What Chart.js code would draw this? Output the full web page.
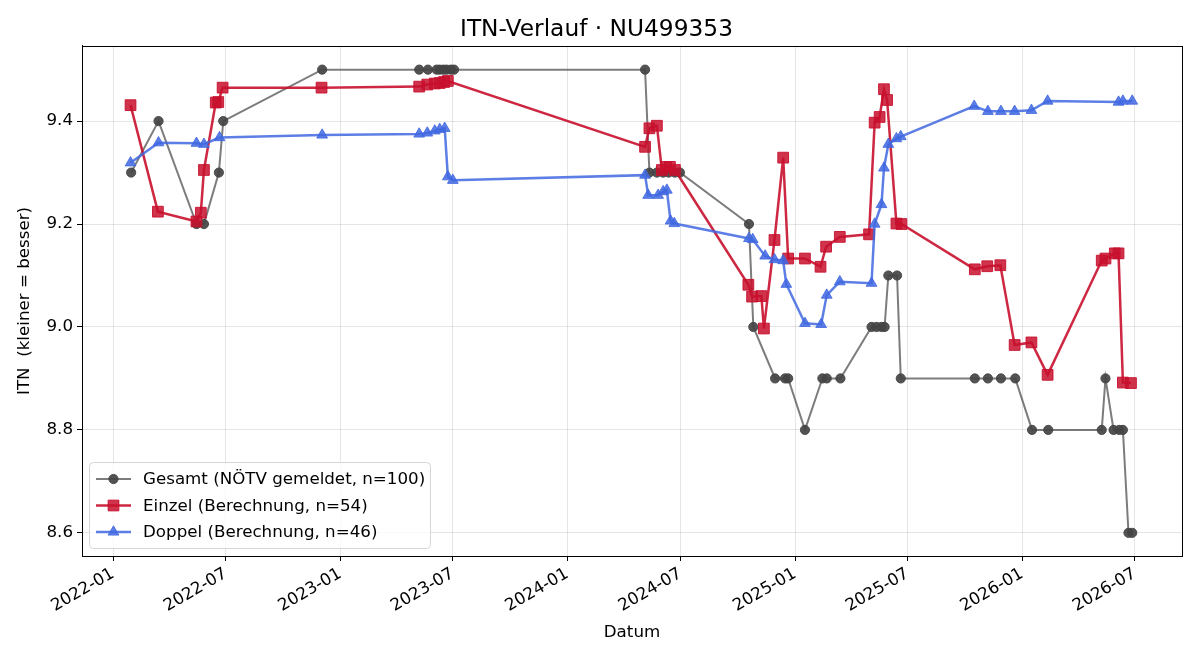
<!DOCTYPE html>
<html>
<head>
<meta charset="utf-8">
<title>ITN-Verlauf</title>
<script src="https://cdn.jsdelivr.net/npm/chart.js@4.4.1/dist/chart.umd.min.js"></script>
<style>
  html, body { margin: 0; padding: 0; background: #fff; }
  #wrap { width: 1200px; height: 660px; }
</style>
</head>
<body>
<div id="wrap"><canvas id="itnChart" width="1200" height="660"></canvas></div>
<script>
// Werte
const gesamtDates = [
  '2022-01-30', '2022-03-15', '2022-05-15', '2022-05-27', '2022-06-20', '2022-06-27', '2022-12-03',
  '2023-05-08', '2023-05-22', '2023-06-05', '2023-06-10', '2023-06-16', '2023-06-21', '2023-06-28', '2023-07-03',
  '2024-05-05', '2024-05-12', '2024-05-24', '2024-06-03', '2024-06-12', '2024-06-22', '2024-06-30',
  '2024-10-19', '2024-10-26', '2024-11-30', '2024-12-16', '2024-12-21',
  '2025-01-17', '2025-02-14', '2025-02-21', '2025-03-15', '2025-05-04', '2025-05-12', '2025-05-20', '2025-05-25',
  '2025-05-31', '2025-06-14', '2025-06-20', '2025-10-17', '2025-11-07', '2025-11-28', '2025-12-21',
  '2026-01-17', '2026-02-12', '2026-05-09', '2026-05-15', '2026-05-28', '2026-06-06', '2026-06-12', '2026-06-21', '2026-06-27'
];
const gesamtValues = [
  9.3, 9.4, 9.2, 9.2, 9.3, 9.4, 9.5,
  9.5, 9.5, 9.5, 9.5, 9.5, 9.5, 9.5, 9.5,
  9.5, 9.3, 9.3, 9.3, 9.3, 9.3, 9.3,
  9.2, 9.0, 8.9, 8.9, 8.9,
  8.8, 8.9, 8.9, 8.9, 9.0, 9.0, 9.0, 9.0,
  9.1, 9.1, 8.9, 8.9, 8.9, 8.9, 8.9,
  8.8, 8.8, 8.8, 8.9, 8.8, 8.8, 8.8, 8.6, 8.6
];

const einzelDates = [
  '2022-01-29', '2022-03-14', '2022-05-15', '2022-05-22', '2022-05-27', '2022-06-15', '2022-06-19', '2022-06-26', '2022-12-02',
  '2023-05-08', '2023-05-21', '2023-06-02', '2023-06-10', '2023-06-17', '2023-06-23',
  '2024-05-05', '2024-05-12', '2024-05-24', '2024-06-01', '2024-06-08', '2024-06-14', '2024-06-22',
  '2024-10-18', '2024-10-24', '2024-11-08', '2024-11-12', '2024-11-29', '2024-12-13', '2024-12-21',
  '2025-01-17', '2025-02-11', '2025-02-20', '2025-03-14', '2025-04-30', '2025-05-09', '2025-05-17', '2025-05-24',
  '2025-05-29', '2025-06-13', '2025-06-21', '2025-10-17', '2025-11-06', '2025-11-27', '2025-12-20',
  '2026-01-16', '2026-02-11', '2026-05-09', '2026-05-15', '2026-05-30', '2026-06-05', '2026-06-12', '2026-06-25'
];
const einzelValues = [
  9.431, 9.224, 9.205, 9.222, 9.305, 9.436, 9.437, 9.465, 9.465,
  9.467, 9.471, 9.473, 9.474, 9.476, 9.478,
  9.350, 9.386, 9.391, 9.305, 9.311, 9.311, 9.305,
  9.082, 9.059, 9.060, 8.997, 9.169, 9.329, 9.133,
  9.133, 9.117, 9.156, 9.175, 9.180, 9.397, 9.408, 9.462,
  9.441, 9.201, 9.200, 9.112, 9.118, 9.120, 8.965,
  8.970, 8.907, 9.129, 9.133, 9.143, 9.143, 8.892, 8.891
];

const doppelDates = [
  '2022-01-29', '2022-03-15', '2022-05-15', '2022-05-27', '2022-06-21', '2022-12-03',
  '2023-05-08', '2023-05-21', '2023-06-02', '2023-06-10', '2023-06-18', '2023-06-23', '2023-07-01',
  '2024-05-05', '2024-05-10', '2024-05-26', '2024-06-03', '2024-06-09', '2024-06-15', '2024-06-21',
  '2024-10-19', '2024-10-25', '2024-11-14', '2024-11-29', '2024-12-13', '2024-12-18',
  '2025-01-17', '2025-02-12', '2025-02-21', '2025-03-14', '2025-05-04', '2025-05-09', '2025-05-20', '2025-05-24',
  '2025-05-31', '2025-06-13', '2025-06-20', '2025-10-16', '2025-11-07', '2025-11-28', '2025-12-20',
  '2026-01-16', '2026-02-11', '2026-06-05', '2026-06-12', '2026-06-27'
];
const doppelValues = [
  9.319, 9.358, 9.357, 9.355, 9.368, 9.373,
  9.375, 9.377, 9.381, 9.384, 9.386, 9.292, 9.285,
  9.295, 9.256, 9.256, 9.263, 9.266, 9.206, 9.201,
  9.172, 9.170, 9.138, 9.131, 9.129, 9.083,
  9.007, 9.005, 9.062, 9.088, 9.085, 9.200, 9.238, 9.309,
  9.355, 9.366, 9.370, 9.429, 9.419, 9.419, 9.419,
  9.421, 9.439, 9.437, 9.439, 9.439
];

const seriesLabels = [
  'Gesamt (NÖTV gemeldet, n=100)',
  'Einzel (Berechnung, n=54)',
  'Doppel (Berechnung, n=46)'
];

const xTickLabels = ['2022-01', '2022-07', '2023-01', '2023-07', '2024-01', '2024-07', '2025-01', '2025-07', '2026-01', '2026-07'];
const yTicks = [8.6, 8.8, 9.0, 9.2, 9.4];

const FONT = 'DejaVu Sans';
const FS = 16.7;

function toPoints(dates, values) {
  return dates.map((d, i) => ({ x: Date.parse(d), y: values[i] }));
}

// kleine Legende unten links im Plot, wie bei matplotlib
const legendBox = {
  id: 'legendBox',
  afterDraw(chart) {
    const { ctx, chartArea } = chart;
    const w = 341, h = 86;
    const x = chartArea.left + 7;
    const y = chartArea.bottom - 8 - h;
    ctx.save();
    ctx.beginPath();
    ctx.roundRect(x + 0.5, y + 0.5, w, h, 4);
    ctx.fillStyle = 'rgba(255,255,255,0.8)';
    ctx.fill();
    ctx.strokeStyle = 'rgba(204,204,204,0.8)';
    ctx.lineWidth = 1;
    ctx.stroke();
    chart.data.datasets.forEach((ds, i) => {
      const cy = y + 17 + i * 26.5;
      ctx.strokeStyle = ds.borderColor;
      ctx.lineWidth = ds.borderWidth;
      ctx.beginPath();
      ctx.moveTo(x + 7, cy);
      ctx.lineTo(x + 42, cy);
      ctx.stroke();
      ctx.fillStyle = ds.pointBackgroundColor;
      ctx.strokeStyle = ds.pointBorderColor;
      ctx.lineWidth = 1;
      Chart.helpers.drawPoint(ctx, { pointStyle: ds.pointStyle, radius: ds.pointRadius, borderWidth: 1, rotation: 0 }, x + 24.5, cy);
      ctx.fillStyle = '#000';
      ctx.font = FS + 'px "' + FONT + '"';
      ctx.textBaseline = 'middle';
      ctx.textAlign = 'left';
      ctx.fillText(ds.label, x + 54, cy + 1);
    });
    ctx.restore();
  }
};

// Rahmen rund um die Achsen (oben und rechts fehlen sonst)
const frameBox = {
  id: 'frameBox',
  afterDatasetsDraw(chart) {
    const { ctx, chartArea } = chart;
    ctx.save();
    ctx.strokeStyle = '#000';
    ctx.lineWidth = 1;
    ctx.strokeRect(Math.round(chartArea.left) + 0.5, Math.round(chartArea.top) + 0.5,
      Math.round(chartArea.right - chartArea.left), Math.round(chartArea.bottom - chartArea.top));
    ctx.restore();
  }
};

const data = {
  datasets: [
    {
      label: seriesLabels[0],
      data: toPoints(gesamtDates, gesamtValues),
      borderColor: 'rgba(68,68,68,0.7)',
      borderWidth: 2,
      pointStyle: 'circle',
      pointRadius: 4.6,
      pointBackgroundColor: 'rgba(68,68,68,0.92)',
      pointBorderColor: 'rgba(68,68,68,0.92)',
      pointBorderWidth: 1,
      order: 3
    },
    {
      label: seriesLabels[1],
      data: toPoints(einzelDates, einzelValues),
      borderColor: 'rgba(200,16,46,0.9)',
      borderWidth: 2.5,
      pointStyle: 'rect',
      pointRadius: 7.6,
      pointBackgroundColor: 'rgba(200,16,46,0.85)',
      pointBorderColor: 'rgba(200,16,46,0.9)',
      pointBorderWidth: 1,
      order: 2
    },
    {
      label: seriesLabels[2],
      data: toPoints(doppelDates, doppelValues),
      borderColor: 'rgba(65,105,225,0.85)',
      borderWidth: 2.5,
      pointStyle: 'triangle',
      pointRadius: 6.2,
      pointBackgroundColor: 'rgba(65,105,225,0.85)',
      pointBorderColor: 'rgba(65,105,225,0.85)',
      pointBorderWidth: 1,
      order: 1
    }
  ]
};

const DAY = 86400000;

const options = {
  responsive: false,
  animation: false,
  layout: {
    padding: { left: 11, right: 18, top: 0, bottom: 13 }
  },
  scales: {
    x: {
      type: 'linear',
      min: Date.parse('2022-01-01') - 50 * DAY,
      max: Date.parse('2022-01-01') + 1718 * DAY,
      afterBuildTicks(scale) {
        scale.ticks = xTickLabels.map(l => ({ value: Date.parse(l + '-01') }));
      },
      afterFit(scale) {
        scale.height = 91;
      },
      ticks: {
        autoSkip: false,
        minRotation: 30,
        maxRotation: 30,
        padding: 3,
        color: '#000',
        font: { family: FONT, size: FS },
        callback: (value, index) => xTickLabels[index]
      },
      grid: {
        color: 'rgba(0,0,0,0.1)',
        tickColor: '#000',
        tickLength: 5
      },
      border: { color: '#000', width: 1 },
      title: {
        display: true,
        text: 'Datum',
        color: '#000',
        font: { family: FONT, size: FS }
      }
    },
    y: {
      type: 'linear',
      min: 8.555,
      max: 9.546,
      afterBuildTicks(scale) {
        scale.ticks = yTicks.map(v => ({ value: v }));
      },
      afterFit(scale) {
        scale.width = 71;
      },
      ticks: {
        color: '#000',
        padding: 4,
        font: { family: FONT, size: FS },
        callback: v => v.toFixed(1)
      },
      grid: {
        color: 'rgba(0,0,0,0.1)',
        tickColor: '#000',
        tickLength: 5
      },
      border: { color: '#000', width: 1 },
      title: {
        display: true,
        text: 'ITN  (kleiner = besser)',
        color: '#000',
        font: { family: FONT, size: FS }
      }
    }
  },
  plugins: {
    legend: { display: false },
    tooltip: { enabled: false },
    title: {
      display: true,
      text: 'ITN-Verlauf · NU499353',
      color: '#000',
      font: { family: FONT, size: 23.3, weight: 'normal' },
      padding: { top: 16, bottom: 2 }
    }
  }
};

const ctx = document.getElementById('itnChart').getContext('2d');
window.itnChart = new Chart(ctx, {
  type: 'line',
  data: data,
  options: options,
  plugins: [frameBox, legendBox]
});
</script>
</body>
</html>
